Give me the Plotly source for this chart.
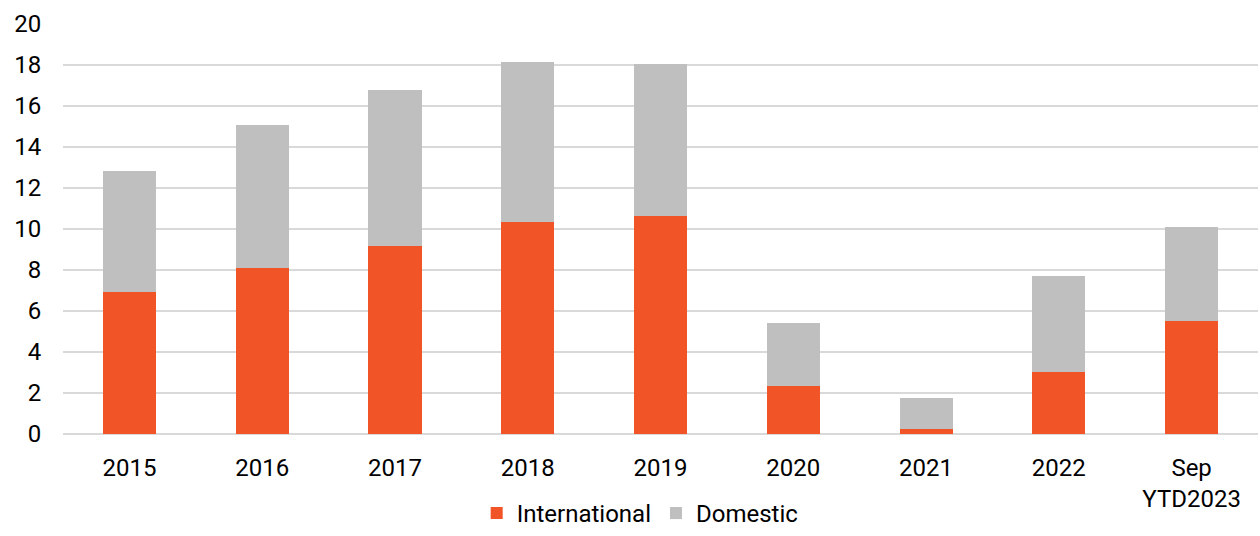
import plotly.graph_objects as go

categories = ["2015", "2016", "2017", "2018", "2019", "2020", "2021", "2022", "Sep<br>YTD2023"]
international = [6.93, 8.10, 9.17, 10.34, 10.63, 2.34, 0.24, 3.02, 5.51]
total = [12.83, 15.07, 16.78, 18.15, 18.05, 5.41, 1.76, 7.70, 10.10]
domestic = [t - i for t, i in zip(total, international)]

ORANGE = "#F15427"
GREY = "#BFBFBF"
FONT = "Liberation Sans Narrow, Arial Narrow, Roboto, sans-serif"

fig = go.Figure()
fig.add_trace(go.Bar(x=categories, y=international, name="International",
                     marker=dict(color=ORANGE, line=dict(width=0))))
fig.add_trace(go.Bar(x=categories, y=domestic, name="Domestic",
                     marker=dict(color=GREY, line=dict(width=0))))

fig.update_layout(
    barmode="stack",
    bargap=0.6,
    width=1260,
    height=536,
    paper_bgcolor="white",
    plot_bgcolor="white",
    font=dict(family=FONT, size=24, color="#000000"),
    margin=dict(t=24, b=102, l=63, r=2),
    legend=dict(orientation="h", x=0.483, xanchor="center", yref="container",
                y=-0.02, yanchor="bottom", traceorder="normal", font=dict(size=24),
                itemwidth=30),
    xaxis=dict(showline=False, showgrid=False, ticks="outside", ticklen=12,
               tickcolor="rgba(0,0,0,0)", automargin=False),
    yaxis=dict(range=[0, 20], dtick=2, showgrid=True, gridcolor="#D9D9D9", gridwidth=1.5,
               zeroline=True, zerolinecolor="#D9D9D9", zerolinewidth=1.5,
               ticks="outside", ticklen=16, tickcolor="rgba(0,0,0,0)", automargin=False),
)

fig.write_html("out.html", config={"displayModeBar": False},
               post_script="document.body.style.margin='0';")
